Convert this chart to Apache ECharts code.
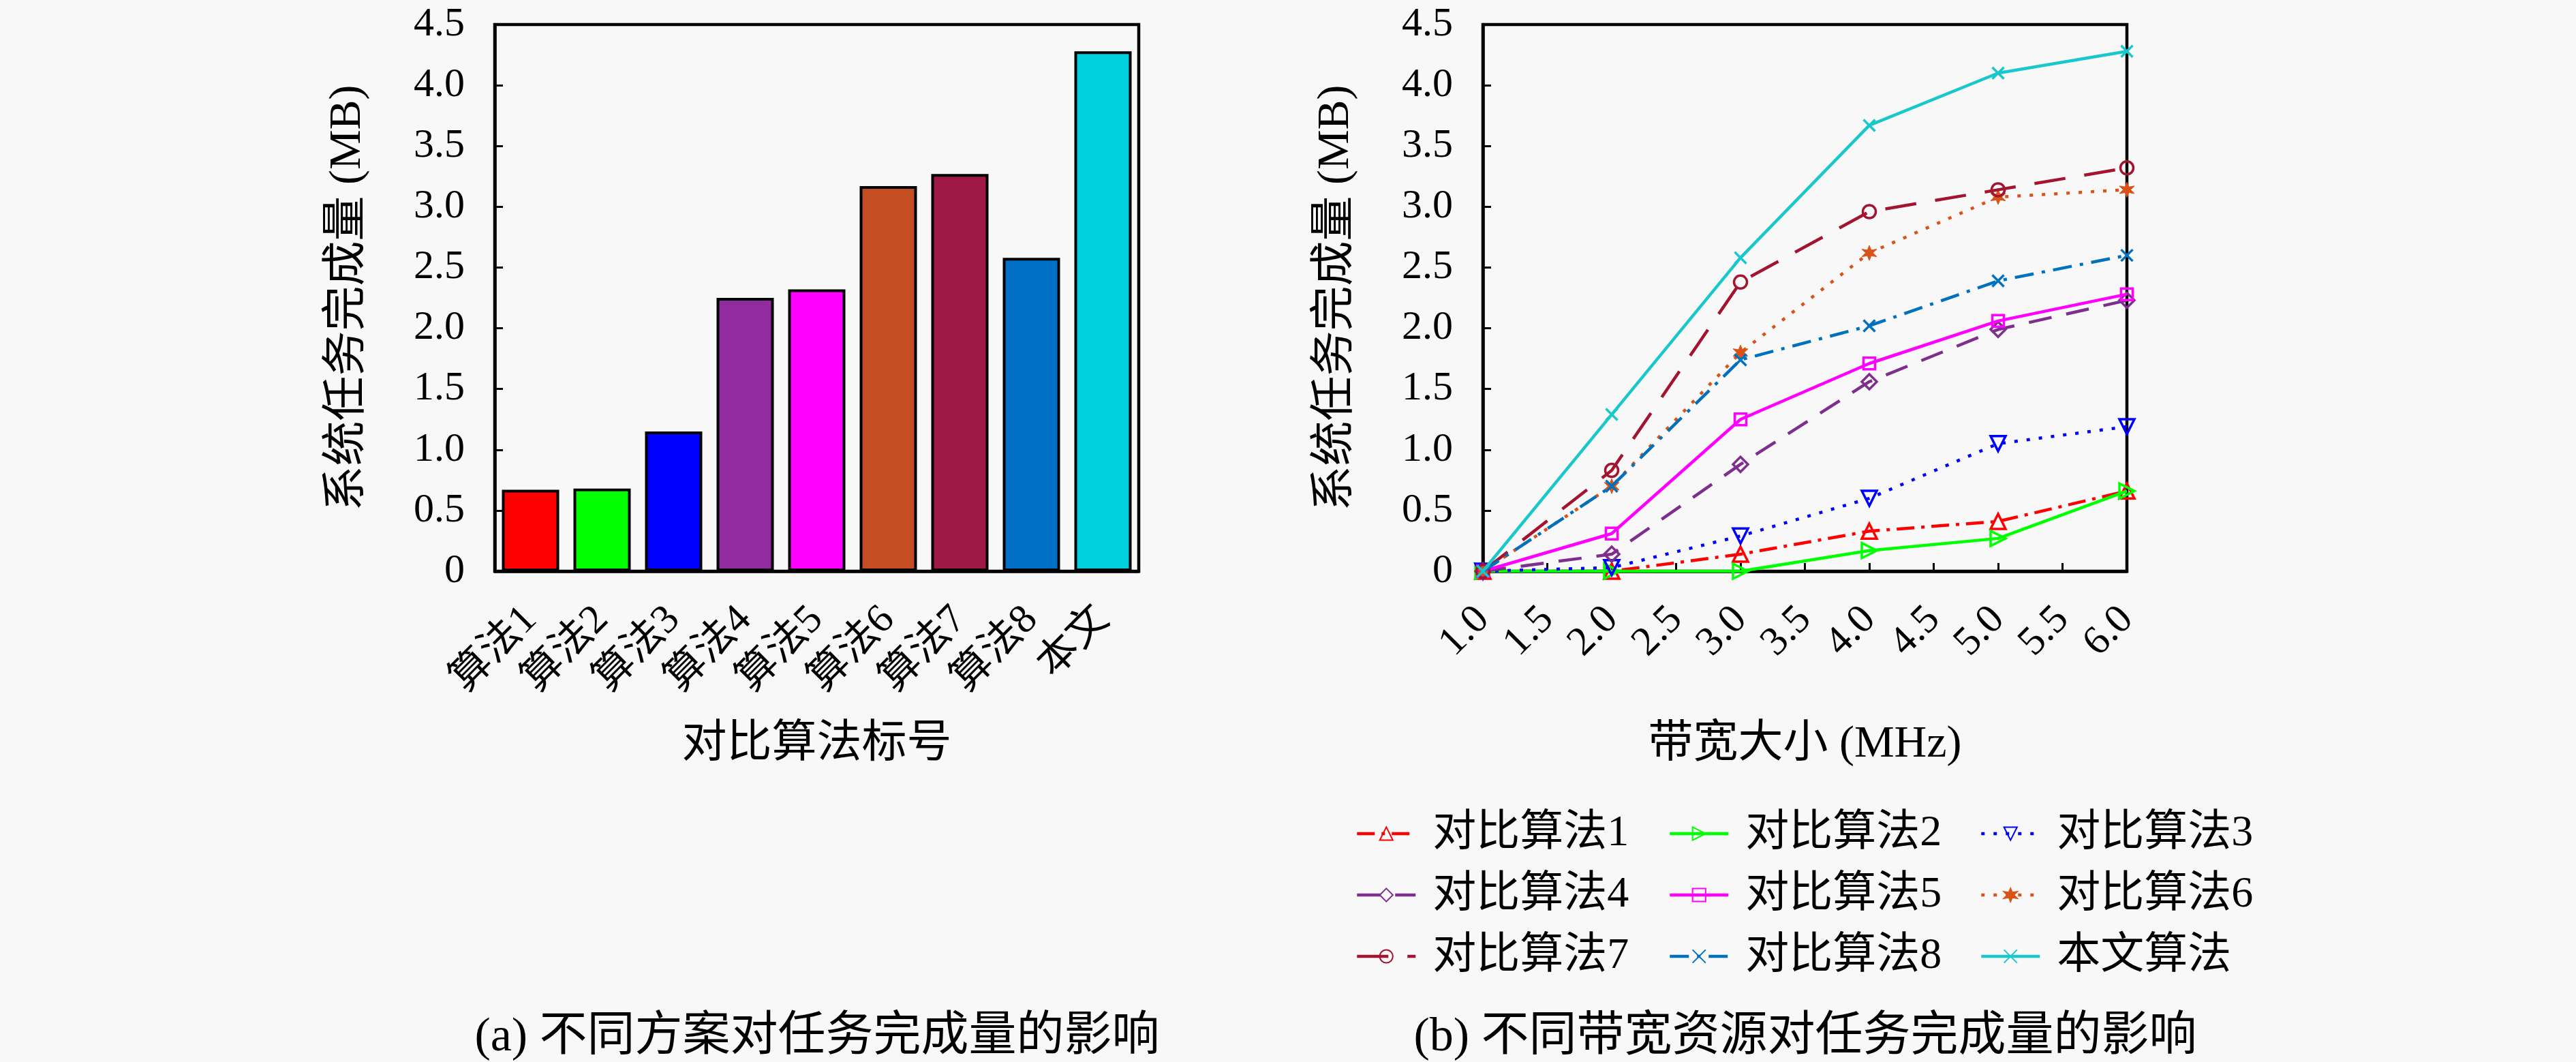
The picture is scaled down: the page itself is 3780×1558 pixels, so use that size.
<!DOCTYPE html>
<html>
<head>
<meta charset="utf-8">
<script src="https://cdn.jsdelivr.net/npm/echarts@6/dist/echarts.min.js"></script>
<style>
html,body{margin:0;padding:0;background:#F8F8F8;}
#chart{width:3780px;height:1558px;}
</style>
</head>
<body>
<div id="chart"></div>
<script>
// ---- data ----
var barCategories = ['算法1','算法2','算法3','算法4','算法5','算法6','算法7','算法8','本文'];
var barValues = [0.67, 0.68, 1.15, 2.25, 2.32, 3.17, 3.27, 2.58, 4.28];
var barColors = ['#FF0000','#00FF00','#0000FF','#922B9E','#FF00FF','#C44E22','#A01845','#0070C6','#00CFDE'];

var bandwidth = [1, 2, 3, 4, 5, 6];
var seriesNames = ['对比算法1','对比算法2','对比算法3','对比算法4','对比算法5','对比算法6','对比算法7','对比算法8','本文算法'];
var alg1 = [0, 0, 0.14, 0.33, 0.41, 0.66];
var alg2 = [0, 0, 0, 0.17, 0.27, 0.66];
var alg3 = [0, 0.03, 0.29, 0.60, 1.05, 1.19];
var alg4 = [0, 0.14, 0.88, 1.56, 1.99, 2.23];
var alg5 = [0, 0.31, 1.25, 1.71, 2.06, 2.28];
var alg6 = [0, 0.70, 1.80, 2.62, 3.08, 3.14];
var alg7 = [0, 0.83, 2.38, 2.96, 3.14, 3.32];
var alg8 = [0, 0.70, 1.74, 2.02, 2.39, 2.60];
var ours = [0, 1.29, 2.58, 3.67, 4.10, 4.28];

var yTickMin = 0, yTickMax = 4.5, yTickStep = 0.5;
var xTickMin = 1, xTickMax = 6, xTickStep = 0.5;

var captionA = '(a) 不同方案对任务完成量的影响';
var captionB = '(b) 不同带宽资源对任务完成量的影响';
var yName = '系统任务完成量 (MB)';
var xNameA = '对比算法标号';
var xNameB = '带宽大小 (MHz)';

// ---- styles ----
var FONT = "'Liberation Serif', 'Noto Sans CJK SC', serif";
var lineData = [alg1, alg2, alg3, alg4, alg5, alg6, alg7, alg8, ours];
var lineColors = ['#FF0000','#00FF00','#0000FF','#7E2F8E','#FF00FF','#D95319','#A2142F','#0072BD','#1AC8CC'];
var lineTypes = [[26,10,5,10], 'solid', [5,13], [34,22], 'solid', [5,13], [46,28], [28,12,5,12], 'solid'];
var STAR = 'path://M50,0L61,31L93,25L71,50L93,75L61,69L50,100L39,69L7,75L29,50L7,25L39,31Z';
var XMARK = 'path://M0,0L100,100M100,0L0,100';
var symbols = ['triangle', 'triangle', 'triangle', 'diamond', 'rect', STAR, 'circle', XMARK, XMARK];
var symbolRot = [0, -90, 180, 0, 0, 0, 0, 0, 0];
var symbolSizes = [22, 22, 22, 22, 17, 22, 19, 17, 17];
var hollow = [true, true, true, true, true, false, true, false, false];

function yFmt(v){ return v === 0 ? '0' : v.toFixed(1); }

var axisCommon = {
  axisLine: {show: true, lineStyle: {color: '#000', width: 4.5}},
  axisTick: {show: true, inside: true, length: 12, lineStyle: {color: '#000', width: 3}},
  splitLine: {show: false},
  nameTextStyle: {fontFamily: FONT, fontSize: 66, color: '#000'},
  nameLocation: 'middle'
};

function yAxisDef(gi){
  return Object.assign({}, axisCommon, {
    type: 'value', gridIndex: gi, min: yTickMin, max: yTickMax, interval: yTickStep,
    name: yName, nameGap: 182,
    axisLabel: {fontFamily: FONT, fontSize: 60, color: '#000', margin: 44, formatter: yFmt}
  });
}

var series = [{
  type: 'bar', xAxisIndex: 0, yAxisIndex: 0,
  barCategoryGap: '20%',
  data: barValues.map(function(v, i){ return {value: v, itemStyle: {color: barColors[i]}}; }),
  itemStyle: {borderColor: '#000', borderWidth: 4},
  silent: true
}];

for (var i = 0; i < lineData.length; i++) {
  var c = lineColors[i];
  var isX = symbols[i] === XMARK;
  series.push({
    type: 'line', name: seriesNames[i], xAxisIndex: 1, yAxisIndex: 1,
    data: bandwidth.map(function(x, k){ return [x, lineData[i][k]]; }),
    color: c,
    symbol: symbols[i], symbolSize: symbolSizes[i], symbolRotate: symbolRot[i],
    showAllSymbol: true,
    lineStyle: {color: c, width: 4.5, type: lineTypes[i]},
    itemStyle: {
      color: hollow[i] ? 'rgba(0,0,0,0)' : (isX ? 'rgba(0,0,0,0)' : c),
      borderColor: c, borderWidth: hollow[i] || isX ? 3.5 : 1
    },
    z: 3 + i,
    silent: true, animation: false
  });
}

function legendCol(names, left){
  return {
    orient: 'vertical', left: left, top: 1186,
    data: names, itemWidth: 86, itemHeight: 24, itemGap: 26,
    lineStyle: {width: 'inherit', type: 'inherit'},
    textStyle: {fontFamily: FONT, fontSize: 64, color: '#000', lineHeight: 64, padding: [0,0,0,20]},
    selectedMode: false
  };
}

var option = {
  backgroundColor: '#F8F8F8',
  animation: false,
  grid: [
    {left: 726, top: 36, width: 945, height: 802, show: true, borderColor: '#000', borderWidth: 4.5, backgroundColor: 'transparent'},
    {left: 2176, top: 36, width: 945, height: 802, show: true, borderColor: '#000', borderWidth: 4.5, backgroundColor: 'transparent'}
  ],
  xAxis: [
    Object.assign({}, axisCommon, {
      type: 'category', gridIndex: 0, data: barCategories,
      name: xNameA, nameGap: 222,
      axisTick: {show: true, inside: true, alignWithLabel: true, length: 12, lineStyle: {color: '#000', width: 3}},
      axisLabel: {fontFamily: FONT, fontSize: 60, color: '#000', rotate: 45, margin: 62, interval: 0}
    }),
    Object.assign({}, axisCommon, {
      type: 'value', gridIndex: 1, min: xTickMin, max: xTickMax, interval: xTickStep,
      name: xNameB, nameGap: 222,
      axisLabel: {fontFamily: FONT, fontSize: 60, color: '#000', rotate: 45, margin: 62, formatter: function(v){ return v.toFixed(1); }}
    })
  ],
  yAxis: [yAxisDef(0), yAxisDef(1)],
  legend: [
    legendCol([seriesNames[0], seriesNames[3], seriesNames[6]], 1984),
    legendCol([seriesNames[1], seriesNames[4], seriesNames[7]], 2443),
    legendCol([seriesNames[2], seriesNames[5], seriesNames[8]], 2900)
  ],
  graphic: [
    {type: 'text', x: 1199, y: 1523, style: {text: captionA, font: '70px ' + FONT, fill: '#000', align: 'center', verticalAlign: 'middle'}},
    {type: 'text', x: 2649, y: 1523, style: {text: captionB, font: '70px ' + FONT, fill: '#000', align: 'center', verticalAlign: 'middle'}}
  ],
  series: series
};

var chart = echarts.init(document.getElementById('chart'), null, {renderer: 'canvas'});
chart.setOption(option);
</script>
</body>
</html>
